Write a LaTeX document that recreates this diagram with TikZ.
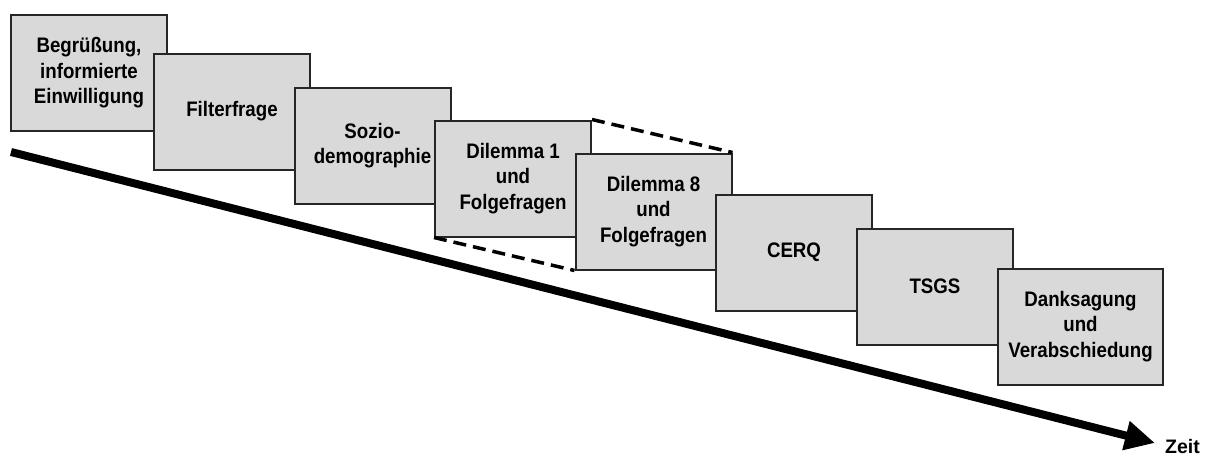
\documentclass[tikz,border=0pt]{standalone}
\usepackage{fontspec}
\setmainfont{Liberation Sans}
\newfontfamily\boxfont[FakeStretch=0.89]{Liberation Sans}
\usetikzlibrary{arrows.meta}
\definecolor{boxgray}{HTML}{D9D9D9}
\definecolor{boxline}{HTML}{262626}
\tikzset{
  stagebox/.style={draw=boxline, fill=boxgray, line width=2pt, minimum width=156pt, minimum height=116pt,
    align=center, inner sep=0pt, font=\boxfont\bfseries\fontsize{21pt}{25.5pt}\selectfont},
  linkline/.style={draw=black, line width=3.5pt, dash pattern=on 13pt off 7pt},
  timearrow/.style={draw=black, line width=8pt, -{Triangle[length=30pt,width=28pt]}},
  timelabel/.style={font=\bfseries\fontsize{19.5pt}{21pt}\selectfont, inner sep=0pt}
}
\begin{document}
\begin{tikzpicture}[x=1pt,y=-1pt]
\useasboundingbox (0,0) rectangle (1206,455);
\coordinate (start) at (11,152);
\coordinate (tip) at (1155,443);
\draw[timearrow] (start) -- (tip);
\node[stagebox] (b1) at (89,73) {Begrüßung,\\informierte\\Einwilligung};
\node[stagebox] (b2) at (232,111.5) {Filterfrage};
\node[stagebox] (b3) at (372.5,145.5) {Sozio-\\demographie};
\node[stagebox] (b4) at (513,178.5) {Dilemma 1\\und\\Folgefragen};
\node[stagebox] (b5) at (653.5,211.5) {Dilemma 8\\und\\Folgefragen};
\node[stagebox] (b6) at (794,252.5) {CERQ};
\node[stagebox] (b7) at (935,286.5) {TSGS};
\node[stagebox, minimum width=165pt] (b8) at (1080.5,326.5) {Danksagung\\und\\Verabschiedung};
\draw[linkline] (b4.north east) -- (b5.north east);
\draw[linkline] (b4.south west) -- (b5.south west);
\node[timelabel, anchor=base west] (zeit) at (1165,453) {Zeit};
\end{tikzpicture}
\end{document}
